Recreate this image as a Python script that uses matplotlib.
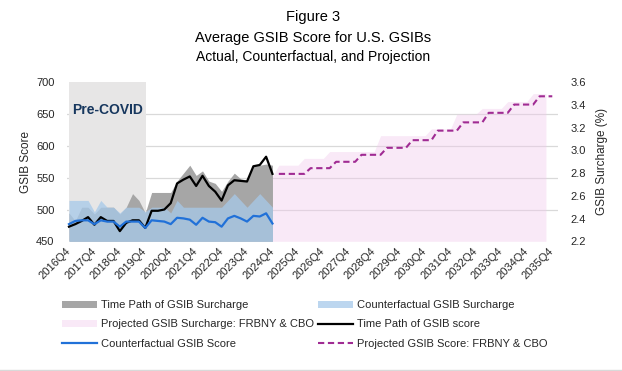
import numpy as np
import matplotlib
matplotlib.use("Agg")
import matplotlib.pyplot as plt
from matplotlib.ticker import FixedLocator
from matplotlib.lines import Line2D

plt.rcParams['font.family'] = ['Liberation Sans', 'DejaVu Sans']

# ---------------- data ----------------
# quarterly categories 2016Q4 .. 2035Q4
quarters = ["2016Q4"] + [f"{y}Q{q}" for y in range(2017, 2036) for q in range(1, 5)]
tick_labels = ["2016Q4", "2017Q4", "2018Q4", "2019Q4", "2020Q4", "2021Q4", "2022Q4",
               "2023Q4", "2024Q4", "2025Q4", "2026Q4", "2027Q4", "2028Q4", "2029Q4",
               "2030Q4", "2031Q4", "2032Q4", "2033Q4", "2034Q4", "2035Q4"]

# actual period 2016Q4 .. 2024Q4 (33 quarters)
actual_score = [473, 477, 482, 488, 476, 488, 482, 482, 466, 479, 483, 483, 471,
                498, 498, 500, 510, 541, 547, 552, 537, 553, 537, 528, 514, 538,
                546, 545, 544, 568, 570, 583, 556]
cf_score = [477, 482, 483, 483, 477, 483, 481, 481, 473, 481, 481, 481, 471,
            483, 482, 481, 477, 487, 486, 484, 476, 487, 481, 480, 473, 486,
            490, 486, 481, 490, 489, 494, 478]
actual_surcharge = [2.45, 2.38, 2.50, 2.50, 2.44, 2.50, 2.50, 2.50, 2.44, 2.50, 2.62,
                    2.56, 2.45, 2.63, 2.63, 2.63, 2.63, 2.73, 2.80, 2.87, 2.78, 2.82,
                    2.73, 2.71, 2.64, 2.73, 2.80, 2.75, 2.74, 2.87, 2.87, 2.88, 2.87]
cf_surcharge = [2.56, 2.56, 2.56, 2.56, 2.46, 2.56, 2.50, 2.50, 2.45, 2.50, 2.50,
                2.50, 2.46, 2.50, 2.50, 2.50, 2.45, 2.56, 2.50, 2.50, 2.50, 2.50,
                2.50, 2.50, 2.50, 2.56, 2.62, 2.56, 2.50, 2.56, 2.62, 2.56, 2.50]

# projection: surcharge 2024Q4 .. 2035Q3, score 2025Q1 .. 2035Q4
proj_surcharge = [2.77,
                  2.87, 2.87, 2.87, 2.87,
                  2.93, 2.93, 2.93, 2.93,
                  2.99, 2.99, 2.99, 2.99, 2.99, 2.99, 2.99, 2.99,
                  3.13, 3.13, 3.13, 3.13, 3.13, 3.13, 3.13, 3.13,
                  3.19, 3.19, 3.19, 3.19,
                  3.32, 3.32, 3.32, 3.32,
                  3.37, 3.37, 3.37, 3.37,
                  3.43, 3.43, 3.43, 3.43,
                  3.50, 3.50, 3.50]
proj_score = [556, 556, 556, 556, 556,
              565, 565, 565, 565,
              575, 575, 575, 575,
              586, 586, 586, 586,
              597, 597, 597, 597,
              609, 609, 609, 609,
              624, 624, 624, 624,
              637, 637, 637, 637,
              652, 652, 652, 652,
              665, 665, 665, 665,
              678, 678, 678]

precovid_last = "2019Q4"

# ---------------- positions ----------------
x_all = np.arange(len(quarters))
n_act = len(actual_score)
x_act = x_all[:n_act]
x_proj_s = x_all[n_act - 1:n_act - 1 + len(proj_surcharge)]
x_proj_l = x_all[n_act:n_act + len(proj_score)]
tick_pos = [quarters.index(t) for t in tick_labels]

# ---------------- figure ----------------
W, H = 622, 371
fig = plt.figure(figsize=(W / 100, H / 100), dpi=100)
left, right, top, bottom = 67, 558, 82.3, 241.3
ax1 = fig.add_axes([left / W, 1 - bottom / H, (right - left) / W, (bottom - top) / H])
ax2 = ax1.twinx()
ax1.set_zorder(ax2.get_zorder() + 1)
ax1.patch.set_visible(False)

ax1.set_xlim(-0.31, 76.9)
ax1.set_ylim(450, 700)
ax2.set_ylim(2.2, 3.6)

# gridlines (aligned with the left-axis ticks) drawn beneath the areas
ax2.yaxis.set_minor_locator(FixedLocator(np.linspace(2.2, 3.6, 6)))
ax2.grid(which='minor', axis='y', color='#d9d9d9', lw=0.9)
ax2.set_axisbelow(True)
ax2.tick_params(which='minor', length=0)

# pre-COVID shading
ax2.axvspan(0, quarters.index(precovid_last) + 0.1, color='#e7e6e6', lw=0, zorder=1)

# areas (right axis)
a_gray = ax2.fill_between(x_act, 2.2, actual_surcharge, color='#a6a6a6', lw=0, zorder=2,
                          label='Time Path of GSIB Surcharge')
a_blue = ax2.fill_between(x_act, 2.2, cf_surcharge, color='#a6c9ea', alpha=0.75, lw=0,
                          zorder=3, label='Counterfactual GSIB Surcharge')
a_pink = ax2.fill_between(x_proj_s, 2.2, proj_surcharge, color='#f0c8eb', alpha=0.4, lw=0,
                          zorder=2, label='Projected GSIB Surcharge: FRBNY & CBO')

# lines (left axis)
l_black, = ax1.plot(x_act, actual_score, color='black', lw=1.6, label='Time Path of GSIB score')
l_blue, = ax1.plot(x_act, cf_score, color='#2171d8', lw=1.6, label='Counterfactual GSIB Score')
l_proj, = ax1.plot(x_proj_l, proj_score, color='#a02b93', lw=1.5, dashes=(3, 1.75),
                   label='Projected GSIB Score: FRBNY & CBO')

ax1.text(0.5, 657, "Pre-COVID", fontsize=10, fontweight='bold', color='#17375e',
         ha='left', va='center')

# axes styling
for ax in (ax1, ax2):
    for s in ax.spines.values():
        s.set_visible(False)
ax1.set_yticks(np.arange(450, 701, 50))
ax2.set_yticks(np.round(np.arange(2.2, 3.61, 0.2), 1))
ax2.set_yticklabels([f"{v:.1f}" for v in np.round(np.arange(2.2, 3.61, 0.2), 1)])
ax1.tick_params(axis='y', length=0, pad=9, labelsize=8, colors='#262626')
ax2.tick_params(axis='y', which='major', length=0, pad=9, labelsize=8, colors='#262626')
ax1.set_xticks(tick_pos)
ax1.set_xticklabels(tick_labels, rotation=45, ha='right', va='center',
                    rotation_mode='anchor', fontsize=8, color='#262626')
ax1.tick_params(axis='x', length=0, pad=6)

ax1.set_ylabel("GSIB Score", fontsize=8.5, color='#262626')
ax1.yaxis.set_label_coords(-0.072, 0.5)
ax2.set_ylabel("GSIB Surcharge (%)", fontsize=8.5, color='#262626')
ax2.yaxis.set_label_coords(1.078, 0.5)

# titles
fig.text(313 / W, 1 - 17 / H, "Figure 3", ha='center', va='center', fontsize=10.5)
fig.text(313 / W, 1 - 38 / H, "Average GSIB Score for U.S. GSIBs", ha='center', va='center', fontsize=10.5)
fig.text(313 / W, 1 - 57 / H, "Actual, Counterfactual, and Projection", ha='center', va='center', fontsize=10)

# legend: two single-column legends
common = dict(frameon=False, fontsize=8, handlelength=3.15, handleheight=0.6,
              handletextpad=0.35, labelspacing=0.85, borderpad=0, borderaxespad=0,
              loc='upper left')
leg1 = fig.legend([a_gray, a_pink, l_blue],
                  [a_gray.get_label(), a_pink.get_label(), l_blue.get_label()],
                  bbox_to_anchor=(62 / W, 1 - 300 / H), **common)
leg2 = fig.legend([a_blue, l_black, l_proj],
                  [a_blue.get_label(), l_black.get_label(), l_proj.get_label()],
                  bbox_to_anchor=(318 / W, 1 - 300 / H), **common)
for lg in (leg1, leg2):
    for t in lg.get_texts():
        t.set_color('#262626')

fig.add_artist(Line2D([0, 1], [0.8 / H, 0.8 / H], color='#d9d9d9', lw=1))

fig.savefig("out.png", dpi=100)
